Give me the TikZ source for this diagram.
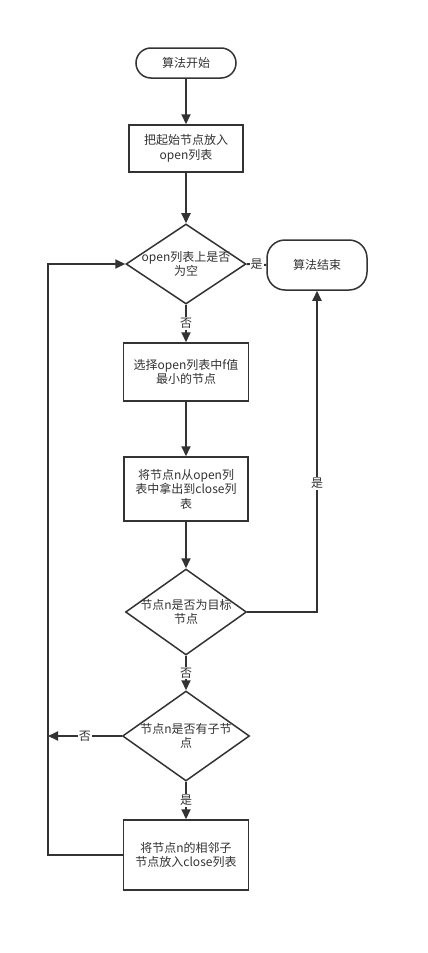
\documentclass[tikz,border=0pt]{standalone}
\usepackage{fontspec}
\setmainfont{Noto Sans CJK SC}
\usetikzlibrary{arrows.meta,shapes.geometric}
\definecolor{ln}{HTML}{333333}
\begin{document}
\begin{tikzpicture}[x=1pt,y=-1pt,
  every node/.style={font=\fontsize{12}{14.5}\selectfont, text=ln},
  base/.style={draw=ln, line width=1.5pt, fill=white, inner sep=0pt, align=center},
  term/.style={base, rounded corners=15pt},
  proc/.style={base, rectangle},
  dia/.style={base, diamond, aspect=1.5},
  conn/.style={draw=ln, line width=2pt},
  arr/.style={conn, -{Triangle[length=10pt,width=9pt]}},
  lab/.style={fill=white, inner sep=1pt}]
\useasboundingbox (0,0) rectangle (428,953);
\fill[white] (0,0) rectangle (428,953);

\node[term, minimum width=100pt, minimum height=30pt] (start) at (186,63) {算法开始};
\node[proc, minimum width=114pt, minimum height=47pt] (b1) at (186,148.5) {把起始节点放入\\open列表};
\node[dia, minimum width=120pt, minimum height=80pt] (d1) at (186,264) {};
\node[align=center] at (d1) {open列表上是否\\为空};
\node[term, rounded corners=18pt, minimum width=100pt, minimum height=50pt] (end) at (317,265) {算法结束};
\node[proc, minimum width=125pt, minimum height=58pt] (b2) at (186,372) {选择open列表中f值\\最小的节点};
\node[proc, minimum width=124pt, minimum height=64pt] (b3) at (186,489) {将节点n从open列\\表中拿出到close列\\表};
\node[dia, minimum width=121pt, minimum height=86pt] (d2) at (186,612) {};
\node[align=center] at (d2) {节点n是否为目标\\节点};
\node[dia, minimum width=127pt, minimum height=90pt] (d3) at (186,736) {};
\node[align=center] at (d3) {节点n是否有子节\\点};
\node[proc, minimum width=125pt, minimum height=70pt] (b4) at (186,855) {将节点n的相邻子\\节点放入close列表};

\coordinate (L) at (48,0);

\draw[arr] (start) -- (b1);
\draw[arr] (b1) -- (d1);
\draw[conn] (d1.east) -- node[lab] {是} (end.west);
\draw[arr] (d1) -- node[lab] {否} (b2);
\draw[arr] (b2) -- (b3);
\draw[arr] (b3) -- (d2);
\draw[arr] (d2.east) -| node[lab, pos=0.70] {是} (end.south);
\draw[arr] (d2) -- node[lab] {否} (d3);
\draw[arr] (d3) -- node[lab] {是} (b4);
\draw[arr] (d3.west) -- node[lab] {否} (d3.west -| L);
\draw[arr] (b4.west) -- (b4.west -| L) -- (d1.west -| L) -- (d1.west);
\end{tikzpicture}
\end{document}
